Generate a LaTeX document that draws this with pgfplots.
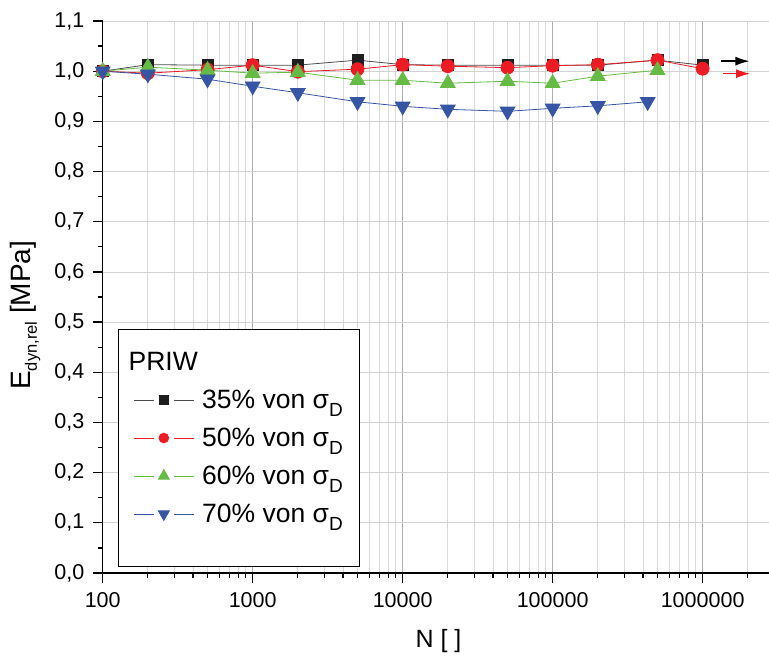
\documentclass[border=0pt]{standalone}
\usepackage{pgfplots}
\pgfplotsset{compat=1.18}
\usepackage{fontspec}
\setmainfont{Liberation Sans}
\usetikzlibrary{arrows.meta}
\definecolor{cblack}{RGB}{30,30,30}
\definecolor{cred}{RGB}{237,28,36}
\definecolor{cgreen}{RGB}{102,187,68}
\definecolor{cblue}{RGB}{54,85,165}
\newcommand{\sD}{σ\raisebox{-0.55ex}{\fontsize{19}{19}\selectfont D}}
\begin{document}
\begin{tikzpicture}
\begin{axis}[
  scale only axis,
  width=666.3pt, height=552pt,
  xmode=log,
  xmin=100, xmax=2.77e6,
  ymin=0, ymax=1.1,
  axis x line*=bottom, axis y line*=left,
  axis line style={line width=1.4pt, black},
  xtick={100,1000,10000,100000,1000000},
  xticklabels={100,1000,10000,100000,1000000},
  minor xtick={200,300,400,500,600,700,800,900,2000,3000,4000,5000,6000,7000,8000,9000,20000,30000,40000,50000,60000,70000,80000,90000,200000,300000,400000,500000,600000,700000,800000,900000,2000000},
  ytick={0,0.1,...,1.11},
  minor y tick num=1,
  yticklabel style={xshift=-5pt, /pgf/number format/.cd, fixed, fixed zerofill, precision=1, use comma},
  /pgf/number format/assume math mode=true,
  tick label style={font=\fontsize{21.5}{21.5}\selectfont},
  xticklabel style={yshift=-6pt},
  tick align=outside,
  major tick length=10pt, minor tick length=5pt,
  every tick/.style={black, line width=1.2pt},
  xmajorgrids, xminorgrids, ymajorgrids,
  major x grid style={gray!65, line width=0.8pt},
  minor x grid style={gray!30, line width=0.8pt},
  major y grid style={gray!35, line width=0.8pt},
  xlabel={N [ ]},
  ylabel={E\raisebox{-0.45ex}{\fontsize{16.5}{16.5}\selectfont dyn,rel} [MPa]},
  xlabel style={font=\fontsize{25}{25}\selectfont, at={(axis description cs:0.504,-0.123)}, anchor=center},
  ylabel style={font=\fontsize{28}{28}\selectfont, at={(axis description cs:-0.1166,0.467)}, anchor=center},
  legend style={at={(axis description cs:0.023,0.011)}, anchor=south west,
    draw=black, line width=0.8pt, fill=white,
    font=\fontsize{26.5}{30}\selectfont,
    inner xsep=15pt, inner ysep=21pt, row sep=14pt},
  legend cell align=left,
  legend image code/.code={%
    \draw[line width=0.8pt] (0pt,0pt)--(20pt,0pt) (40pt,0pt)--(60pt,0pt);
    \draw[/tikz/every mark/.append style={scale=0.75}] plot[only marks] coordinates {(30pt,0pt)};
    \path (66pt,0pt);},
  every axis plot/.append style={line width=0.8pt},
]
\addlegendimage{empty legend}
\addlegendentry{\hspace*{-75pt}PRIW}
\addplot[color=black!70, mark=square*, mark size=5.5pt, mark options={fill=cblack, draw=cblack}] coordinates {
(100,1.0)(200,1.013)(500,1.012)(1000,1.012)(2000,1.012)(5000,1.022)(10000,1.013)(20000,1.012)(50000,1.012)(100000,1.012)(200000,1.012)(500000,1.022)(1000000,1.012)};
\addlegendentry{35\% von \sD}
\addplot[color=cred, mark=*, mark size=6.5pt, mark options={fill=cred, draw=cred}] coordinates {
(100,1.0)(200,0.996)(500,1.003)(1000,1.012)(2000,0.999)(5000,1.004)(10000,1.013)(20000,1.01)(50000,1.007)(100000,1.011)(200000,1.013)(500000,1.022)(1000000,1.005)};
\addlegendentry{50\% von \sD}
\addplot[color=cgreen, mark=triangle*, mark size=8.5pt, mark options={fill=cgreen, draw=cgreen}] coordinates {
(100,1.0)(200,1.008)(500,1.002)(1000,0.996)(2000,0.998)(5000,0.982)(10000,0.982)(20000,0.976)(50000,0.98)(100000,0.976)(200000,0.99)(500000,1.002)};
\addlegendentry{60\% von \sD}
\addplot[color=cblue, mark=triangle*, mark size=8.5pt, mark options={fill=cblue, draw=cblue, rotate=180}] coordinates {
(100,1.0)(200,0.994)(500,0.984)(1000,0.970)(2000,0.957)(5000,0.939)(10000,0.930)(20000,0.924)(50000,0.920)(100000,0.926)(200000,0.931)(430000,0.939)};
\addlegendentry{70\% von \sD}
\addlegendimage{empty legend}
\addlegendentry{}
\addplot[black, line width=1.3pt, -{Latex[length=14pt,width=9pt]}, forget plot] coordinates {(1.33e6,1.02)(2.05e6,1.02)};
\addplot[cred, line width=1.3pt, -{Latex[length=14pt,width=9pt]}, forget plot] coordinates {(1.36e6,0.995)(2.07e6,0.995)};
\end{axis}
\pgfresetboundingbox
\path (-102.7pt,-84pt) rectangle (666.3pt,573pt);
\end{tikzpicture}
\end{document}
